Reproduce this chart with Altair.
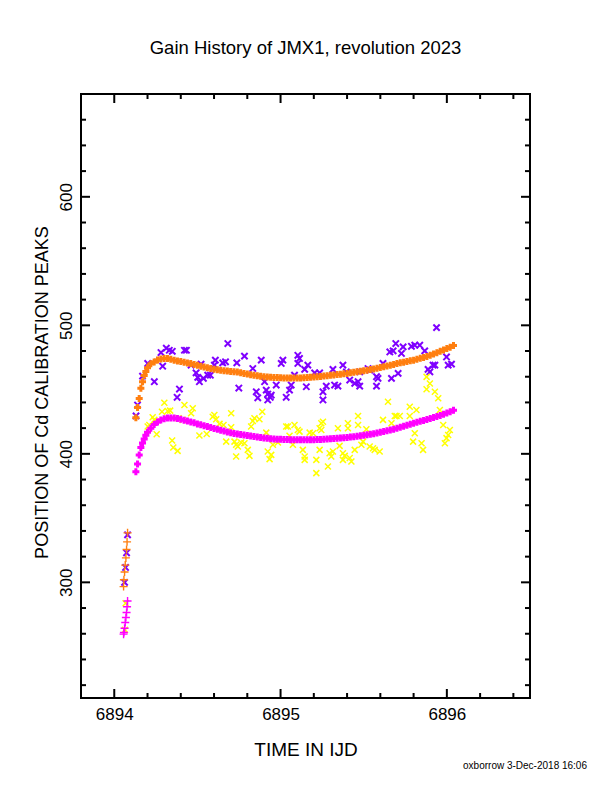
import altair as alt
import pandas as pd

TITLE = "Gain History of JMX1, revolution 2023"
X_TITLE = "TIME IN IJD"
Y_TITLE = "POSITION OF Cd CALIBRATION PEAKS"
FOOTER = "oxborrow 3-Dec-2018 16:06"
FONT = "Liberation Sans"

X_MAJOR = [6894, 6895, 6896]
X_MINOR = [6894.2, 6894.4, 6894.6, 6894.8, 6895.2, 6895.4, 6895.6, 6895.8, 6896.2, 6896.4]
Y_MAJOR = [300, 400, 500, 600]
Y_MINOR = [220, 240, 260, 280, 320, 340, 360, 380, 420, 440, 460, 480,
           520, 540, 560, 580, 620, 640, 660]

# purple crosses (raw peak positions, upper line)
PURPLE_T = [6894.080, 6894.074, 6894.068, 6894.062,
            6894.313, 6894.331, 6894.349, 6894.281, 6894.422, 6894.434, 6894.683, 6894.201,
            6894.170, 6894.241, 6894.291, 6894.392, 6894.378, 6894.140, 6894.131, 6894.462,
            6894.522, 6894.608, 6894.602, 6894.652, 6894.669, 6894.737, 6894.783, 6894.884,
            6894.833, 6894.492, 6894.502, 6894.512, 6894.536, 6894.562, 6894.578, 6894.749,
            6894.854, 6894.863, 6894.914, 6894.923, 6894.944, 6894.938, 6894.904, 6894.974,
            6894.923,
            6895.014, 6895.004, 6895.104, 6895.114, 6895.104, 6895.164, 6895.145, 6895.205,
            6895.235, 6895.315, 6895.375, 6895.396, 6895.476, 6895.526, 6895.536, 6895.616,
            6895.657, 6895.677, 6895.693, 6895.727, 6895.737, 6895.787, 6895.807, 6895.837,
            6895.867, 6895.938, 6895.998, 6895.887, 6895.898, 6895.917, 6895.928, 6896.008,
            6896.028, 6895.084, 6895.064, 6895.054, 6895.034, 6895.155, 6895.255, 6895.255,
            6895.275, 6895.325, 6895.345, 6895.416, 6895.446, 6895.466, 6895.476, 6895.577,
            6895.586, 6895.577, 6895.667, 6895.707]
PURPLE_V = [337.0, 323.0, 311.6, 300.0,
            482.2, 480.6, 479.8, 478.8, 480.6, 480.6, 485.8, 470.3,
            460.5, 456.1, 468.2, 450.4, 444.0, 438.0, 429.5, 469.0,
            469.8, 472.9, 469.0, 470.8, 471.6, 470.8, 476.0, 472.9,
            466.4, 463.0, 459.5, 456.1, 458.7, 461.2, 461.2, 451.2,
            448.3, 443.6, 449.6, 446.5, 445.7, 444.0, 456.1, 453.5,
            441.9,
            472.9, 470.3, 476.7, 474.2, 470.3, 469.0, 465.7, 463.0,
            463.0, 465.7, 469.0, 463.8, 463.8, 466.4, 465.1, 470.3,
            479.3, 480.1, 485.8, 478.1, 483.2, 483.7, 484.5, 484.5,
            480.1, 498.2, 475.4, 465.7, 463.8, 469.0, 469.0, 469.0,
            469.8, 461.2, 453.5, 449.6, 444.0, 452.2, 448.3, 441.9,
            452.7, 453.5, 452.7, 457.4, 454.8, 456.1, 452.7, 460.0,
            458.7, 452.7, 458.7, 462.6]

# yellow crosses (raw peak positions, lower line)
YELLOW_T = [6894.068, 6894.064,
            6894.301, 6894.422, 6894.472, 6894.462, 6894.287, 6894.321, 6894.336, 6894.231,
            6894.241, 6894.201, 6894.211, 6894.255, 6894.348, 6894.355, 6894.381, 6894.387,
            6894.411, 6894.512, 6894.556, 6894.592, 6894.602, 6894.613, 6894.633, 6894.657,
            6894.703, 6894.703, 6894.673, 6894.723, 6894.733, 6894.743, 6894.763, 6894.783,
            6894.733, 6894.813, 6894.803, 6894.823, 6894.843, 6894.873, 6894.833, 6894.890,
            6894.914, 6894.954, 6894.923, 6894.944, 6894.934, 6894.984,
            6895.034, 6895.044, 6895.084, 6895.104, 6895.114, 6895.054, 6895.074, 6895.134,
            6895.145, 6895.145, 6895.175, 6895.195, 6895.235, 6895.245, 6895.255, 6895.235,
            6895.245, 6895.215, 6895.215, 6895.285, 6895.295, 6895.315, 6895.305, 6895.345,
            6895.355, 6895.375, 6895.386, 6895.375, 6895.405, 6895.405, 6895.416, 6895.426,
            6895.446, 6895.466, 6895.466, 6895.486, 6895.496, 6895.516, 6895.536, 6895.556,
            6895.566, 6895.596, 6895.616, 6895.667, 6895.687, 6895.697, 6895.717, 6895.646,
            6895.777, 6895.817, 6895.777, 6895.807, 6895.797, 6895.848, 6895.857, 6895.878,
            6895.898, 6895.878, 6895.928, 6895.948, 6895.958, 6895.978, 6896.018, 6896.008,
            6895.998, 6895.988]
YELLOW_V = [283.7, 263.0,
            439.8, 438.0, 435.4, 431.6, 432.8, 433.3, 433.6, 428.4,
            426.4, 421.2, 422.5, 415.3, 410.3, 404.9, 402.3, 427.7,
            426.4, 414.2, 415.5, 428.9, 430.2, 426.9, 423.3, 422.5,
            431.6, 420.7, 409.5, 409.5, 407.0, 405.7, 408.8, 408.3,
            397.9, 398.4, 403.1, 421.2, 427.7, 426.9, 425.6, 432.8,
            416.5, 407.0, 401.8, 399.2, 395.9, 408.8,
            421.2, 421.2, 422.5, 418.6, 417.3, 414.0, 407.0, 403.1,
            397.9, 395.3, 416.5, 416.0, 403.1, 423.8, 425.0, 419.9,
            418.6, 395.3, 385.0, 390.2, 400.5, 401.8, 397.9, 419.9,
            406.2, 400.5, 398.4, 395.3, 419.9, 423.8, 396.7, 394.0,
            403.1, 429.5, 422.5, 407.0, 409.5, 419.1, 405.7, 404.4,
            403.1, 401.8, 426.4, 423.8, 429.5, 429.5, 429.5, 440.5,
            436.7, 434.1, 429.5, 416.0, 409.5, 408.3, 403.1, 459.9,
            454.8, 450.2, 448.3, 443.2, 434.1, 422.5, 418.6, 414.7,
            412.2, 408.3]

# start-up points of the fitted curves
SPIKE_T = [6894.080, 6894.077, 6894.074, 6894.070, 6894.066, 6894.062, 6894.058, 6894.056]
ORANGE_SPIKE_V = [338.5, 331.5, 325.6, 319.0, 313.4, 308.0, 302.0, 296.7]
MAGENTA_SPIKE_V = [285.5, 281.0, 276.5, 272.6, 268.8, 264.3, 261.0, 259.7]

# fitted curves (plus markers)
CURVE_T = [6894.13, 6894.14, 6894.15, 6894.16, 6894.17, 6894.18, 6894.19, 6894.20,
           6894.22, 6894.24, 6894.26, 6894.28, 6894.30, 6894.32, 6894.34, 6894.36, 6894.38, 6894.40,
           6894.42, 6894.44, 6894.46, 6894.48, 6894.50, 6894.52, 6894.54, 6894.56, 6894.58, 6894.60,
           6894.62, 6894.64, 6894.66, 6894.68, 6894.70, 6894.72, 6894.74, 6894.76, 6894.78, 6894.80,
           6894.82, 6894.84, 6894.86, 6894.88, 6894.90, 6894.92, 6894.94, 6894.96, 6894.98, 6895.00,
           6895.02, 6895.04, 6895.06, 6895.08, 6895.10, 6895.12, 6895.14, 6895.16, 6895.18, 6895.20,
           6895.22, 6895.24, 6895.26, 6895.28, 6895.30, 6895.32, 6895.34, 6895.36, 6895.38, 6895.40,
           6895.42, 6895.44, 6895.46, 6895.48, 6895.50, 6895.52, 6895.54, 6895.56, 6895.58, 6895.60,
           6895.62, 6895.64, 6895.66, 6895.68, 6895.70, 6895.72, 6895.74, 6895.76, 6895.78, 6895.80,
           6895.82, 6895.84, 6895.86, 6895.88, 6895.90, 6895.92, 6895.94, 6895.96, 6895.98, 6896.00,
           6896.02, 6896.04]
ORANGE_V = [428.0, 436.0, 443.0, 451.0, 456.0, 461.0, 464.0, 467.0,
            470.0, 471.5, 473.0, 473.8, 474.2, 474.2, 473.5, 472.9, 472.3, 471.9,
            471.3, 470.7, 470.2, 469.6, 469.0, 468.2, 467.6, 467.0, 466.4, 465.9,
            465.4, 465.0, 464.7, 464.4, 464.1, 463.9, 463.6, 463.1, 462.6, 462.1,
            461.6, 461.2, 460.8, 460.4, 460.0, 459.7, 459.5, 459.4, 459.3, 459.2,
            459.1, 459.0, 459.0, 459.0, 459.0, 459.1, 459.2, 459.4, 459.6, 459.8,
            460.0, 460.2, 460.5, 460.8, 461.1, 461.4, 461.7, 462.0, 462.3, 462.6,
            463.0, 463.4, 463.8, 464.3, 464.7, 465.1, 465.6, 466.1, 466.6, 467.2,
            467.8, 468.4, 469.0, 469.6, 470.3, 470.8, 471.3, 471.8, 472.4, 472.9,
            473.6, 474.3, 475.0, 475.8, 476.7, 477.7, 478.7, 479.8, 480.8, 481.9,
            483.0, 484.3]
MAGENTA_V = [386.0, 392.0, 399.0, 405.0, 408.5, 411.5, 414.5, 416.7,
             420.0, 422.8, 424.8, 426.3, 427.3, 427.8, 427.9, 427.8, 427.4, 426.9,
             426.2, 425.5, 424.8, 424.1, 423.3, 422.6, 421.9, 421.2, 420.5, 419.8,
             419.1, 418.4, 417.7, 417.0, 416.4, 415.9, 415.4, 415.0, 414.6, 414.2,
             413.8, 413.4, 413.0, 412.7, 412.4, 412.1, 411.8, 411.6, 411.4, 411.3,
             411.2, 411.1, 411.0, 411.0, 410.9, 410.9, 410.9, 410.9, 410.9, 411.0,
             411.1, 411.2, 411.3, 411.5, 411.7, 411.9, 412.1, 412.3, 412.5, 412.7,
             413.0, 413.3, 413.6, 414.0, 414.4, 414.8, 415.2, 415.7, 416.2, 416.7,
             417.3, 417.9, 418.5, 419.2, 419.9, 420.6, 421.4, 422.2, 423.0, 423.8,
             424.6, 425.3, 426.0, 426.7, 427.5, 428.3, 429.1, 429.9, 430.8, 431.7,
             432.8, 434.0]

PURPLE = "#7f00ff"
ORANGE = "#ff7f10"
YELLOW = "#ffff00"
MAGENTA = "#ff00ff"

PLUS = "M-1,0L1,0M0,-1L0,1"
CROSS = "M-1,-1L1,1M-1,1L1,-1"

W, H = 449, 604

xscale = alt.Scale(domain=[6893.8, 6896.5], nice=False, zero=False)
yscale = alt.Scale(domain=[210, 680], nice=False, zero=False)

xaxis = alt.Axis(values=X_MAJOR, format="d", ticks=False, domain=False, grid=False,
                 labelFont=FONT, labelFontSize=17, labelColor="black", labelPadding=8,
                 title=X_TITLE, titleFont=FONT, titleFontSize=19, titleFontWeight="normal",
                 titleColor="black", titleY=57, titleBaseline="alphabetic")
yaxis = alt.Axis(values=Y_MAJOR, format="d", ticks=False, domain=False, grid=False,
                 labelFont=FONT, labelFontSize=17, labelColor="black", labelPadding=10,
                 labelAngle=270, labelAlign="center", labelBaseline="alphabetic",
                 title=Y_TITLE, titleFont=FONT, titleFontSize=18, titleFontWeight="normal",
                 titleColor="black", titleAngle=270, titleX=-34, titleY=298,
                 titleAlign="center", titleBaseline="alphabetic")

xenc = alt.X("t:Q", scale=xscale, axis=xaxis)
yenc = alt.Y("v:Q", scale=yscale, axis=yaxis)


def frame(ts, vs):
    return pd.DataFrame({"t": ts, "v": vs})


def pts(data, shape, color, size, sw):
    return alt.Chart(data).mark_point(shape=shape, filled=False, color=color, size=size,
                                      strokeWidth=sw, opacity=1).encode(x=xenc, y=yenc)


purple = pts(frame(PURPLE_T, PURPLE_V), CROSS, PURPLE, 40, 2.0)
yellow = pts(frame(YELLOW_T, YELLOW_V), CROSS, YELLOW, 36, 1.5)
orange_spike = pts(frame(SPIKE_T, ORANGE_SPIKE_V), PLUS, ORANGE, 64, 1.4)
magenta_spike = pts(frame(SPIKE_T, MAGENTA_SPIKE_V), PLUS, MAGENTA, 64, 1.4)
orange = pts(frame(CURVE_T, ORANGE_V), PLUS, ORANGE, 49, 3.0)
magenta = pts(frame(CURVE_T, MAGENTA_V), PLUS, MAGENTA, 49, 3.0)

xmaj = pd.DataFrame({"t": X_MAJOR})
xmin = pd.DataFrame({"t": X_MINOR})
ymaj = pd.DataFrame({"v": Y_MAJOR})
ymin = pd.DataFrame({"v": Y_MINOR})


def xticks(data, y0, y1):
    return alt.Chart(data).mark_rule(color="black", strokeWidth=2).encode(
        x=xenc, y=alt.value(y0), y2=alt.value(y1))


def yticks(data, x0, x1):
    return alt.Chart(data).mark_rule(color="black", strokeWidth=2).encode(
        y=yenc, x=alt.value(x0), x2=alt.value(x1))


ticks = [
    xticks(xmaj, H, H - 9), xticks(xmin, H, H - 5),
    xticks(xmaj, 0, 9), xticks(xmin, 0, 5),
    yticks(ymaj, 0, 9), yticks(ymin, 0, 5),
    yticks(ymaj, W, W - 9), yticks(ymin, W, W - 5),
]

footer = alt.Chart(pd.DataFrame({"s": [FOOTER]})).mark_text(
    align="right", baseline="middle", font=FONT, fontSize=10, color="black"
).encode(x=alt.value(506), y=alt.value(672), text="s:N")

chart = alt.layer(
    purple, yellow, orange_spike, magenta_spike, orange, magenta, *ticks, footer
).properties(
    width=W, height=H,
    title=alt.TitleParams(TITLE, font=FONT, fontSize=18.5, fontWeight="normal", color="black",
                          anchor="middle", baseline="alphabetic", offset=21),
    autosize=alt.AutoSizeParams(type="none"),
    padding={"left": 73, "top": 86, "right": 60, "bottom": 80},
    background="white",
).configure_view(stroke="black", strokeWidth=2)

chart.save("out.html", embed_options={"renderer": "svg", "actions": False})
